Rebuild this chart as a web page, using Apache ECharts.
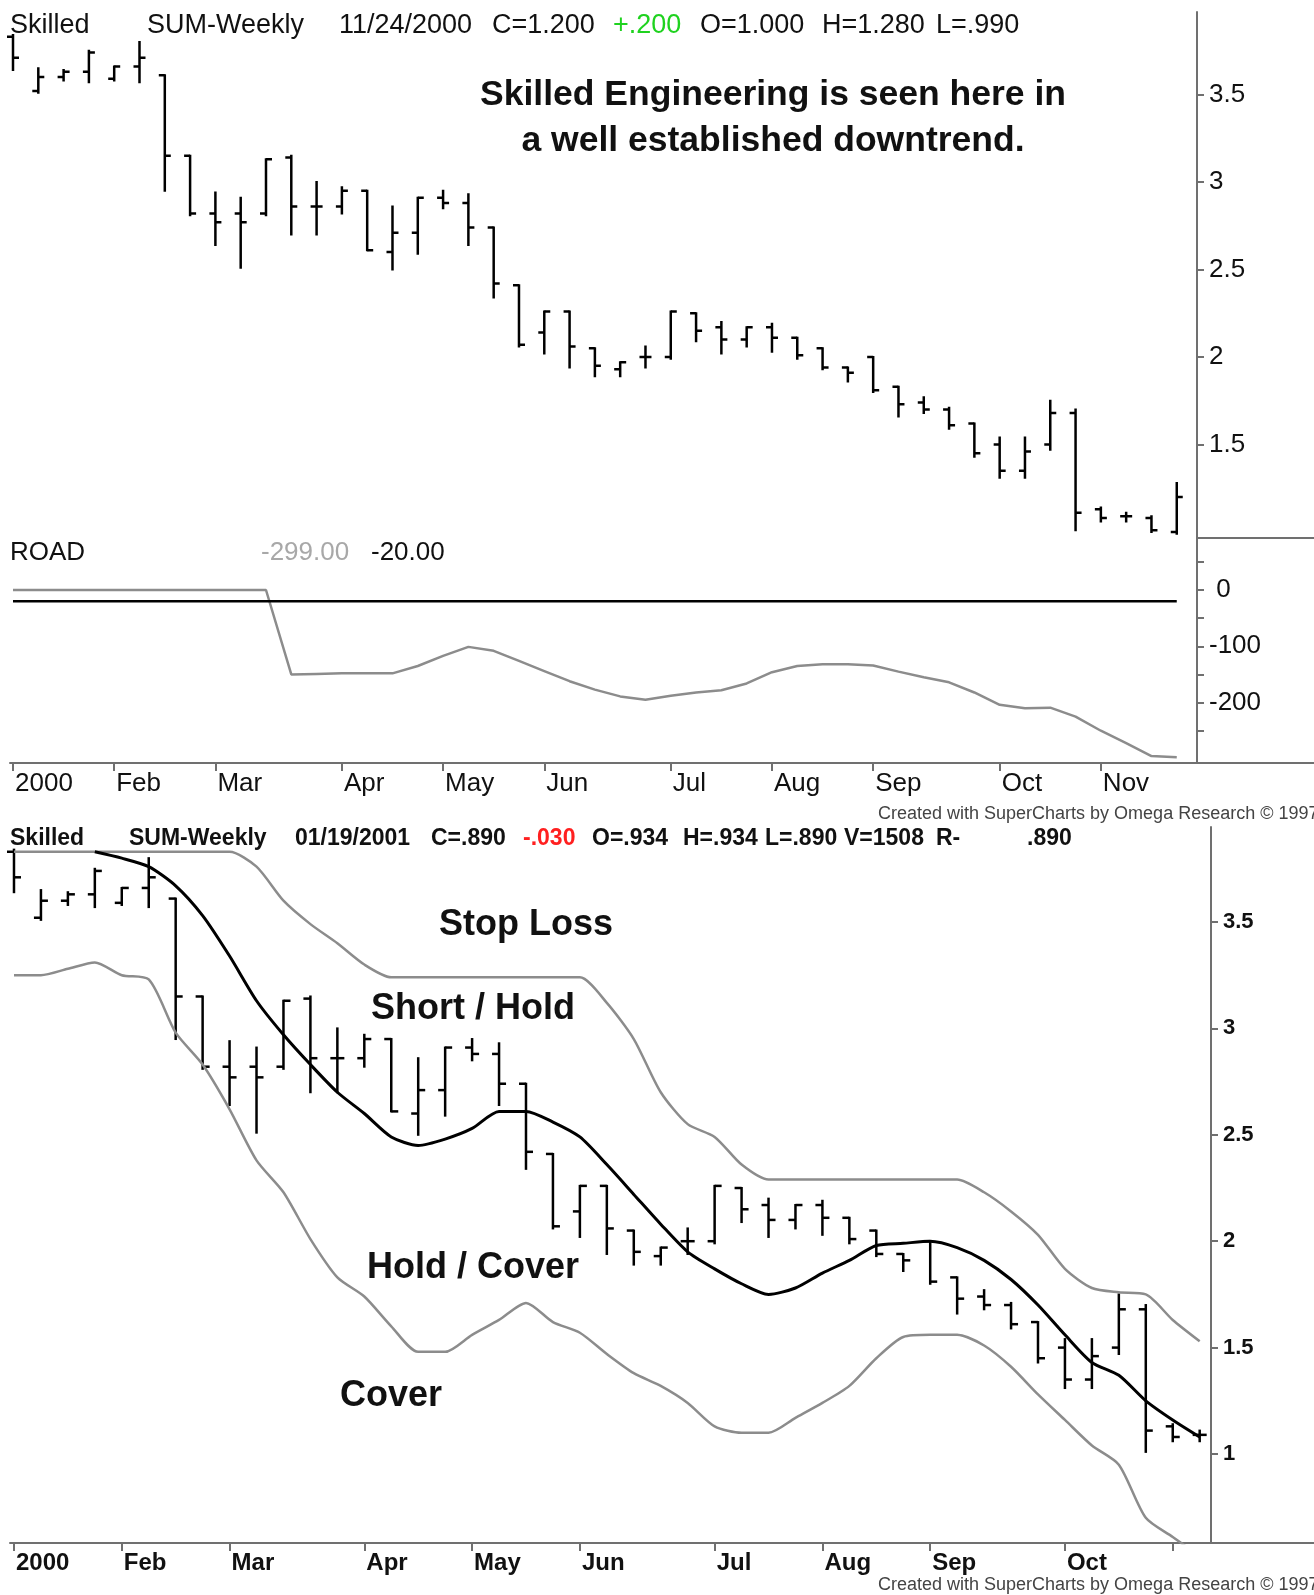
<!DOCTYPE html>
<html>
<head>
<meta charset="utf-8">
<script src="https://cdn.jsdelivr.net/npm/echarts@6/dist/echarts.min.js"></script>
<style>
  body { margin: 0; background: #fff; }
  #chart { width: 1314px; height: 1595px; }
</style>
</head>
<body>
<div id="chart"></div>
<script>
// weekly bars, week ending (Friday)
const weekEnding = [
  '2000-01-07', '2000-01-14', '2000-01-21', '2000-01-28', '2000-02-04', '2000-02-11', '2000-02-18', '2000-02-25',
  '2000-03-03', '2000-03-10', '2000-03-17', '2000-03-24', '2000-03-31', '2000-04-07', '2000-04-14', '2000-04-21',
  '2000-04-28', '2000-05-05', '2000-05-12', '2000-05-19', '2000-05-26', '2000-06-02', '2000-06-09', '2000-06-16',
  '2000-06-23', '2000-06-30', '2000-07-07', '2000-07-14', '2000-07-21', '2000-07-28', '2000-08-04', '2000-08-11',
  '2000-08-18', '2000-08-25', '2000-09-01', '2000-09-08', '2000-09-15', '2000-09-22', '2000-09-29', '2000-10-06',
  '2000-10-13', '2000-10-20', '2000-10-27', '2000-11-03', '2000-11-10', '2000-11-17', '2000-11-24'
]
const openPx = [
  3.83, 3.52, 3.60, 3.63, 3.59, 3.66, 3.61, 3.15, 2.82, 2.82, 2.82, 3.14, 2.86, 2.86, 2.95, 2.60,
  2.71, 2.91, 2.88, 2.74, 2.41, 2.14, 2.26, 2.05, 1.93, 2.00, 2.00, 2.25, 2.17, 2.10, 2.17, 2.11,
  2.05, 1.94, 2.00, 1.83, 1.74, 1.70, 1.62, 1.50, 1.35, 1.50, 1.68, 1.13, 1.09, 1.08, 1.00
]
const highPx = [
  3.84, 3.65, 3.64, 3.75, 3.66, 3.80, 3.61, 3.15, 2.94, 2.91, 3.13, 3.15, 3.00, 2.97, 2.95, 2.86,
  2.91, 2.95, 2.93, 2.74, 2.41, 2.26, 2.26, 2.05, 1.97, 2.06, 2.26, 2.25, 2.20, 2.17, 2.19, 2.11,
  2.05, 1.94, 2.00, 1.83, 1.77, 1.71, 1.62, 1.54, 1.54, 1.75, 1.70, 1.14, 1.11, 1.09, 1.28
]
const lowPx = [
  3.64, 3.51, 3.58, 3.57, 3.58, 3.57, 2.95, 2.81, 2.64, 2.51, 2.81, 2.70, 2.70, 2.82, 2.61, 2.50,
  2.59, 2.85, 2.64, 2.34, 2.06, 2.02, 1.94, 1.89, 1.89, 1.94, 1.99, 2.09, 2.02, 2.06, 2.03, 1.99,
  1.93, 1.86, 1.80, 1.66, 1.68, 1.59, 1.43, 1.31, 1.31, 1.47, 1.01, 1.06, 1.06, 1.00, 0.99
]
const closePx = [
  3.71, 3.60, 3.63, 3.74, 3.66, 3.71, 3.15, 2.82, 2.77, 2.77, 3.13, 2.86, 2.86, 2.95, 2.61, 2.71,
  2.91, 2.88, 2.74, 2.42, 2.07, 2.26, 2.06, 1.95, 1.97, 2.00, 2.26, 2.15, 2.10, 2.17, 2.11, 2.01,
  1.94, 1.91, 1.81, 1.73, 1.70, 1.61, 1.45, 1.35, 1.46, 1.68, 1.11, 1.08, 1.09, 1.01, 1.20
]

// ROAD indicator and its trigger level
const road = [
  0, 0, 0, 0, 0, 0, 0, 0, 0, 0, 0, -150, -149, -148, -148, -148,
  -135, -117, -101, -108, -126, -144, -162, -177, -189, -195, -188, -182, -178, -166, -146, -135,
  -132, -132, -134, -145, -155, -164, -182, -204, -210, -209, -225, -250, -272, -295, -297
]
const roadTrigger = -20

// lower chart: stop loss band, average, cover band (first 45 weeks shown)
const stopLoss = [
  3.83, 3.83, 3.83, 3.83, 3.83, 3.83, 3.83, 3.83, 3.83, 3.76, 3.60, 3.49, 3.40, 3.30, 3.24, 3.24,
  3.24, 3.24, 3.24, 3.24, 3.24, 3.24, 3.12, 2.95, 2.70, 2.55, 2.49, 2.36, 2.29, 2.29, 2.29, 2.29,
  2.29, 2.29, 2.29, 2.29, 2.23, 2.14, 2.03, 1.87, 1.78, 1.76, 1.75, 1.63, 1.53
]
const average = [
  null, null, null, 3.83, 3.80, 3.76, 3.67, 3.53, 3.34, 3.13, 2.97, 2.83, 2.70, 2.60, 2.49, 2.45,
  2.48, 2.53, 2.61, 2.61, 2.56, 2.49, 2.36, 2.22, 2.08, 1.95, 1.87, 1.80, 1.75, 1.78, 1.85, 1.91,
  1.98, 1.99, 2.00, 1.97, 1.91, 1.82, 1.70, 1.56, 1.43, 1.37, 1.25, 1.16, 1.08
]
const coverBand = [
  3.25, 3.25, 3.28, 3.31, 3.25, 3.23, 2.98, 2.83, 2.62, 2.38, 2.23, 2.01, 1.83, 1.74, 1.60, 1.48,
  1.48, 1.56, 1.63, 1.71, 1.62, 1.57, 1.47, 1.38, 1.32, 1.24, 1.13, 1.10, 1.10, 1.17, 1.24, 1.32,
  1.45, 1.55, 1.56, 1.56, 1.51, 1.41, 1.28, 1.16, 1.04, 0.95, 0.70, 0.61, 0.52
]
const bottomWeeks = 45

const monthNames = ['Jan', 'Feb', 'Mar', 'Apr', 'May', 'Jun', 'Jul', 'Aug', 'Sep', 'Oct', 'Nov', 'Dec']
const topPriceTicks = [1.5, 2, 2.5, 3, 3.5]
const bottomPriceTicks = [1, 1.5, 2, 2.5, 3, 3.5]
const roadTicks = [50, 0, -50, -100, -150, -200, -250]
const roadLabels = [0, -100, -200]

// first week of every month gets a tick
const monthStarts = []
weekEnding.forEach((d, i) => {
  if (i === 0 || d.slice(5, 7) !== weekEnding[i - 1].slice(5, 7)) monthStarts.push(i)
})
const monthLabel = (v) => {
  const d = weekEnding[Math.round(v)]
  return Math.round(v) === 0 ? d.slice(0, 4) : monthNames[+d.slice(5, 7) - 1]
}

const ohlc = weekEnding.map((d, i) => [i, openPx[i], highPx[i], lowPx[i], closePx[i]])
const idx = (arr) => arr.map((v, i) => [i, v])

const FONT = "'Liberation Sans', Arial, sans-serif"
const AXIS = '#707070'
const GRAY = '#8c8c8c'

function ohlcRender(tick, width) {
  return function (params, api) {
    const i = api.value(0)
    const o = api.coord([i, api.value(1)])
    const h = api.coord([i, api.value(2)])
    const l = api.coord([i, api.value(3)])
    const c = api.coord([i, api.value(4)])
    const x = h[0]
    const style = { stroke: '#000', lineWidth: width }
    return {
      type: 'group',
      children: [
        { type: 'line', shape: { x1: x, y1: h[1] - 1, x2: x, y2: l[1] + 1 }, style },
        { type: 'line', shape: { x1: x - tick, y1: o[1], x2: x, y2: o[1] }, style },
        { type: 'line', shape: { x1: x, y1: c[1], x2: x + tick, y2: c[1] }, style }
      ]
    }
  }
}

function text(str, x, y, size, opts = {}) {
  return {
    type: 'text',
    x: x,
    y: y,
    style: {
      text: str,
      font: (opts.bold ? 'bold ' : '') + size + 'px ' + FONT,
      fill: opts.color || '#111',
      textAlign: opts.align || 'left',
      textVerticalAlign: 'middle'
    }
  }
}
function hline(x1, x2, y) {
  return { type: 'line', shape: { x1, y1: y, x2, y2: y }, style: { stroke: AXIS, lineWidth: 2 } }
}

const yAxisBase = (gridIndex, min, max, ticks, labels, size, bold, fmt) => ({
  type: 'value',
  gridIndex,
  position: 'right',
  min,
  max,
  splitLine: { show: false },
  axisLine: { show: true, onZero: false, lineStyle: { color: AXIS, width: 2 } },
  axisTick: { show: true, length: 7, customValues: ticks, lineStyle: { color: AXIS, width: 2 } },
  axisLabel: {
    customValues: labels,
    margin: 12,
    align: 'left',
    color: '#111',
    fontSize: size,
    fontWeight: bold ? 'bold' : 'normal',
    fontFamily: FONT,
    formatter: fmt
  }
})

const xAxisBase = (gridIndex, min, max, ticks, labels, size, bold, show) => ({
  type: 'value',
  gridIndex,
  min,
  max,
  show,
  splitLine: { show: false },
  axisLine: { show: true, onZero: false, lineStyle: { color: AXIS, width: 2 } },
  axisTick: { show: true, length: 8, customValues: ticks, lineStyle: { color: AXIS, width: 2 } },
  axisLabel: {
    customValues: labels,
    margin: 8,
    align: 'left',
    padding: [0, 0, 0, 2],
    color: '#111',
    fontSize: size,
    fontWeight: bold ? 'bold' : 'normal',
    fontFamily: FONT,
    formatter: monthLabel
  }
})

const bottomTicks = monthStarts.filter((i) => i < bottomWeeks)
const bottomLabels = bottomTicks.filter((i) => i < bottomWeeks - 4)

const chart = echarts.init(document.getElementById('chart'))
chart.setOption({
  backgroundColor: '#fff',
  animation: false,
  grid: [
    { left: 10, right: 117, top: 12, height: 526, outerBoundsMode: 'none' },
    { left: 10, right: 117, top: 538, height: 225, outerBoundsMode: 'none' },
    { left: 10, right: 103, top: 827, height: 716, outerBoundsMode: 'none' }
  ],
  xAxis: [
    xAxisBase(0, -0.1186, 46.8, [], [], 26, false, false),
    xAxisBase(1, -0.1186, 46.8, monthStarts, monthStarts, 26, false, true),
    xAxisBase(2, -0.148, 44.42, bottomTicks, bottomLabels, 24, true, true)
  ],
  yAxis: [
    yAxisBase(0, 0.9657, 3.9714, topPriceTicks, topPriceTicks, 26, false),
    yAxisBase(1, -307.3, 92.4, roadTicks, roadLabels, 26, false, (v) => (v >= 0 ? ' ' + v : '' + v)),
    yAxisBase(2, 0.5818, 3.9464, bottomPriceTicks, bottomPriceTicks, 22, true)
  ],
  series: [
    {
      type: 'custom',
      xAxisIndex: 0,
      yAxisIndex: 0,
      renderItem: ohlcRender(6, 2.5),
      encode: { x: 0, y: [1, 2, 3, 4] },
      data: ohlc
    },
    {
      type: 'line',
      xAxisIndex: 1,
      yAxisIndex: 1,
      showSymbol: false,
      lineStyle: { color: GRAY, width: 2.5 },
      data: idx(road)
    },
    {
      type: 'line',
      xAxisIndex: 1,
      yAxisIndex: 1,
      showSymbol: false,
      lineStyle: { color: '#000', width: 2.5 },
      data: [[0, roadTrigger], [weekEnding.length - 1, roadTrigger]]
    },
    {
      type: 'line',
      xAxisIndex: 2,
      yAxisIndex: 2,
      showSymbol: false,
      smooth: 0.25,
      lineStyle: { color: GRAY, width: 2.5 },
      data: idx(stopLoss)
    },
    {
      type: 'line',
      xAxisIndex: 2,
      yAxisIndex: 2,
      showSymbol: false,
      smooth: 0.25,
      lineStyle: { color: GRAY, width: 2.5 },
      data: idx(coverBand)
    },
    {
      type: 'custom',
      xAxisIndex: 2,
      yAxisIndex: 2,
      renderItem: ohlcRender(7, 2.5),
      encode: { x: 0, y: [1, 2, 3, 4] },
      data: ohlc.slice(0, bottomWeeks)
    },
    {
      type: 'line',
      xAxisIndex: 2,
      yAxisIndex: 2,
      showSymbol: false,
      smooth: 0.25,
      z: 5,
      lineStyle: { color: '#000', width: 3 },
      data: idx(average)
    }
  ],
  graphic: [
    // top chart header
    text('Skilled', 10, 26, 27),
    text('SUM-Weekly', 147, 26, 27),
    text('11/24/2000', 339, 26, 27),
    text('C=1.200', 492, 26, 27),
    text('+.200', 613, 26, 27, { color: '#1fd21f' }),
    text('O=1.000', 700, 26, 27),
    text('H=1.280', 822, 26, 27),
    text('L=.990', 936, 26, 27),
    text('Skilled Engineering is seen here in', 773, 95, 35.5, { bold: true, align: 'center' }),
    text('a well established downtrend.', 773, 141, 35.5, { bold: true, align: 'center' }),
    text('ROAD', 10, 553, 26),
    text('-299.00', 261, 553, 26, { color: '#a8a8a8' }),
    text('-20.00', 371, 553, 26),
    // axis lines running on under the price scales
    hline(1197, 1314, 538),
    hline(1197, 1314, 763),
    hline(1211, 1314, 1543),
    text('Created with SuperCharts by Omega Research \u00a9 1997', 878, 814, 18, { color: '#444' }),
    // bottom chart header
    text('Skilled', 10, 839, 23, { bold: true }),
    text('SUM-Weekly', 129, 839, 23, { bold: true }),
    text('01/19/2001', 295, 839, 23, { bold: true }),
    text('C=.890', 431, 839, 23, { bold: true }),
    text('-.030', 523, 839, 23, { bold: true, color: '#ff2020' }),
    text('O=.934', 592, 839, 23, { bold: true }),
    text('H=.934', 683, 839, 23, { bold: true }),
    text('L=.890', 765, 839, 23, { bold: true }),
    text('V=1508', 844, 839, 23, { bold: true }),
    text('R-', 936, 839, 23, { bold: true }),
    text('.890', 1027, 839, 23, { bold: true }),
    text('Stop Loss', 526, 925, 36, { bold: true, align: 'center' }),
    text('Short / Hold', 473, 1009, 36, { bold: true, align: 'center' }),
    text('Hold / Cover', 473, 1268, 36, { bold: true, align: 'center' }),
    text('Cover', 391, 1396, 36, { bold: true, align: 'center' }),
    text('Created with SuperCharts by Omega Research \u00a9 1997', 878, 1585, 18, { color: '#444' })
  ]
})
</script>
</body>
</html>
